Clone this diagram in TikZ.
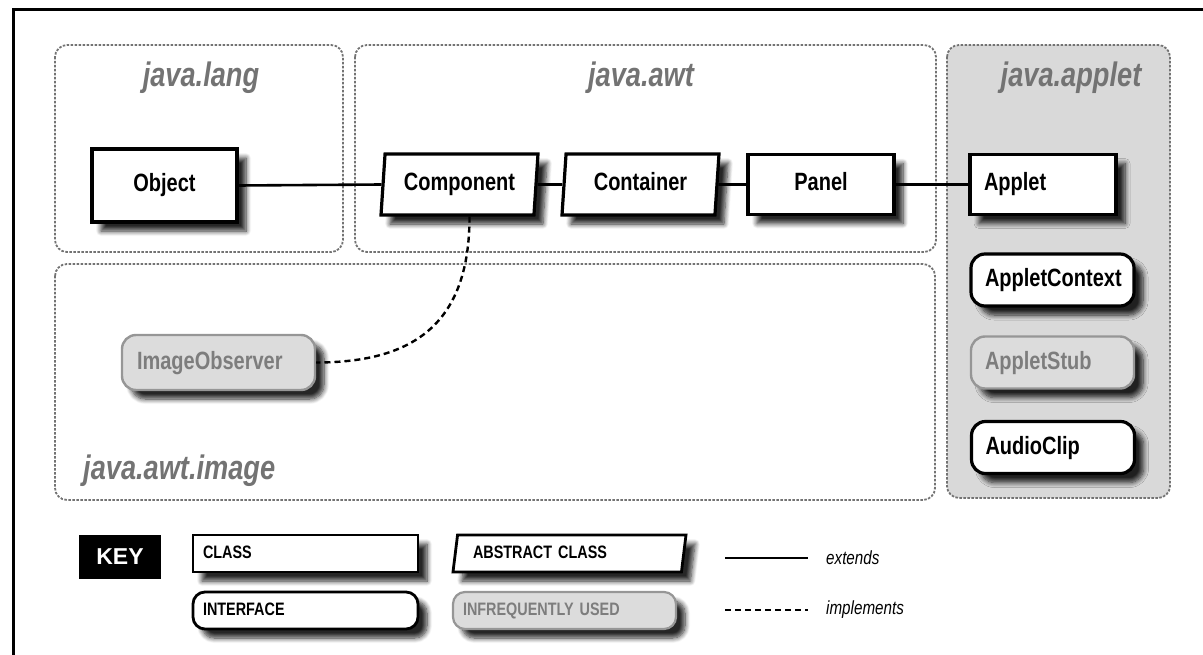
\documentclass[tikz,border=0pt]{standalone}
\usepackage{fontspec}
\setmainfont{Liberation Sans}
\newfontfamily\narrowfont[FakeStretch=0.8]{Liberation Sans}
\definecolor{pkg_gray}{RGB}{115, 115, 115}
\definecolor{pkg_fill}{RGB}{217, 217, 217}
\definecolor{rare_fill}{RGB}{220, 220, 220}
\definecolor{rare_line}{RGB}{150, 150, 150}
\definecolor{rare_text}{RGB}{125, 125, 125}
\usetikzlibrary{shapes.geometric, shadows.blur}

\begin{document}
\begin{tikzpicture}[x=1pt, y=-1pt,
    pkg/.style={draw=pkg_gray, line width=1.8pt, dash pattern=on 2.5pt off 1.5pt,
                rounded corners=12pt},
    pkglabel/.style={text=pkg_gray, inner sep=0pt,
                     font=\narrowfont\bfseries\itshape\fontsize{34}{36}\selectfont},
    shade/.style={blur shadow={shadow xshift=9pt, shadow yshift=-9pt,
                  shadow blur steps=8, shadow blur radius=5pt, shadow opacity=85}},
    cls/.style={draw, line width=3.2pt, fill=white, shade, inner sep=0pt,
                minimum width=146pt, minimum height=60pt, text height=18pt, text depth=5pt,
                font=\narrowfont\bfseries\fontsize{25}{27}\selectfont},
    abstr/.style={cls, trapezium, trapezium left angle=80, trapezium right angle=100,
                  trapezium stretches body, minimum width=157pt, minimum height=61pt},
    iface/.style={cls, rounded corners=14pt, minimum width=163pt, minimum height=52pt,
                  inner xsep=14pt, text width=135pt, align=left},
    rare/.style={iface, line width=2.4pt, draw=rare_line, fill=rare_fill, text=rare_text},
    keybox/.style={cls, line width=2.8pt, minimum width=225pt, minimum height=37pt,
                   inner xsep=10pt, text width=205pt, align=left,
                   text height=13pt, text depth=4pt,
                   font=\narrowfont\bfseries\fontsize{18}{19}\selectfont},
    keyabstr/.style={keybox, trapezium, trapezium left angle=75, trapezium right angle=105,
                     trapezium stretches body, minimum width=233pt, text width=193pt},
    keyiface/.style={keybox, rounded corners=12pt},
    keyrare/.style={keyiface, line width=2.2pt, draw=rare_line, fill=rare_fill, text=rare_text},
    keytxt/.style={inner sep=0pt, font=\narrowfont\itshape\fontsize{19}{20}\selectfont},
    extends/.style={line width=2.6pt},
    implements/.style={line width=2.4pt, dash pattern=on 6pt off 4pt}]

  \useasboundingbox (0,0) rectangle (1203,655);
  \draw[line width=3pt] (13,655) -- (13,10) -- (1203,10);

  \draw[pkg] (55,45) rectangle (343,252);
  \draw[pkg] (355,45) rectangle (936,252);
  \draw[pkg] (55,264) rectangle (935,500);
  \draw[pkg, fill=pkg_fill] (947,45) rectangle (1170,498);

  \node[pkglabel] (langlbl) at (201,78) {java.lang};
  \node[pkglabel] (awtlbl) at (641,78) {java.awt};
  \node[pkglabel] (appletlbl) at (1071,78) {java.applet};
  \node[pkglabel, anchor=west] (imagelbl) at (83,471) {java.awt.image};

  \node[cls, minimum width=145pt, minimum height=73pt] (obj) at (164.5,185.5) {Object};
  \node[abstr] (comp) at (459.5,184.5) {Component};
  \node[abstr] (cont) at (640.5,184.5) {Container};
  \node[cls] (panel) at (821,184.5) {Panel};
  \node[cls, inner xsep=14pt, text width=118pt, align=left] (applet) at (1043,184.5) {Applet};
  \node[iface] (ctx) at (1052.5,280) {AppletContext};
  \node[rare] (stub) at (1052.5,362.5) {AppletStub};
  \node[iface] (clip) at (1053,447.5) {AudioClip};
  \node[rare, minimum width=193pt, minimum height=55pt, inner xsep=15pt,
        text width=163pt] (obs) at (218.5,362.5) {ImageObserver};

  \draw[extends] (obj.east) -- (comp.west);
  \draw[extends] (comp.east) -- (cont.west);
  \draw[extends] (cont.east) -- (panel.west);
  \draw[extends] (panel.east) -- (applet.west);
  \draw[implements] ([xshift=10pt]comp.south) .. controls +(0,105) and +(100,0) .. (obs.east);

  \node[fill=black, text=white, minimum width=82pt, minimum height=44pt, inner sep=0pt,
        font=\bfseries\fontsize{23}{25}\selectfont] (key) at (120,557) {KEY};
  \node[keybox] (kclass) at (305.5,553.5) {CLASS};
  \node[keyiface] (kiface) at (305.5,610.5) {INTERFACE};
  \node[keyabstr] (kabstr) at (569.5,553.5) {ABSTRACT CLASS};
  \node[keyrare, minimum width=223pt, text width=203pt] (krare) at (564.5,610.5) {INFREQUENTLY USED};

  \coordinate (extA) at (725,558);
  \coordinate (extB) at (808,558);
  \coordinate (impA) at (725,610);
  \coordinate (impB) at (808,610);
  \draw[extends] (extA) -- (extB);
  \draw[implements] (impA) -- (impB);
  \node[keytxt, anchor=west] (extlbl) at (826,558) {extends};
  \node[keytxt, anchor=west] (implbl) at (826,610) {implements};
\end{tikzpicture}
\end{document}
